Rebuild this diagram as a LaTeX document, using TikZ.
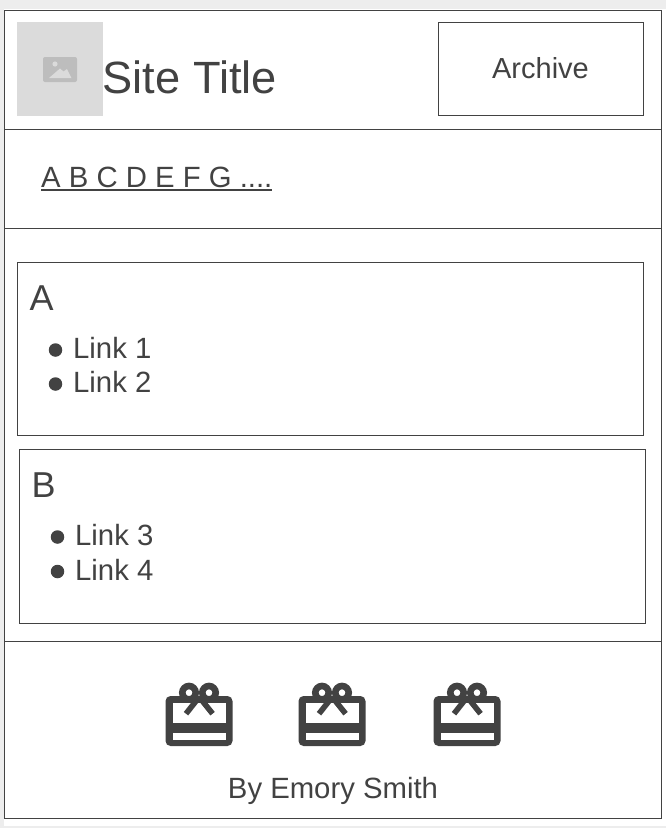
\documentclass[tikz,border=0pt]{standalone}
\usepackage{fontspec}
\setmainfont{Liberation Sans}
\definecolor{ink}{HTML}{424242}
\definecolor{pagegray}{HTML}{EDEDED}
\definecolor{phgray}{HTML}{DBDBDB}
\definecolor{icgray}{HTML}{BDBDBD}
\tikzset{
  x=1pt,y=-1pt,
  frame/.style={draw=ink,line width=1pt,fill=white},
  txt/.style={text=ink,inner sep=0pt,anchor=base west},
  dotb/.style={circle,fill=ink,draw=none,minimum size=13.5pt,inner sep=0pt},
  rule/.style={draw=ink,line width=1pt}
}
\newcommand{\txtsize}[1]{\fontsize{#1}{#1}\selectfont}
\newcommand{\gifticon}[1]{%
  \begin{scope}[shift={(#1,0)}]
    \draw[ink,line width=6.6pt] (189,692.7) circle (6.7);
    \draw[ink,line width=6.6pt] (209,692.7) circle (6.7);
    \fill[ink,rounded corners=5pt] (165.5,696) rectangle (232.5,746);
    \fill[white] (172.5,703) rectangle (225.5,723);
    \fill[white] (172.5,733) rectangle (225.5,739.5);
    \draw[ink,line width=5.6pt] (199.2,697) -- (186,713.7);
    \draw[ink,line width=5.6pt] (199.2,697) -- (212.6,713.7);
  \end{scope}}
\begin{document}
\begin{tikzpicture}
\useasboundingbox (0,0) rectangle (666,828);
\fill[white] (0,0) rectangle (666,828);
\fill[pagegray] (0,0) rectangle (666,9);
\fill[pagegray] (0,0) rectangle (3.5,828);
\fill[pagegray] (0,826) rectangle (666,828);
\path[frame] (4.5,10.5) rectangle (661.5,818.5);
\path[rule] (4.5,129.5) -- (661.5,129.5);
\path[rule] (4.5,228.5) -- (661.5,228.5);
\path[rule] (4.5,641.5) -- (661.5,641.5);
% header
\fill[phgray] (17,22) rectangle (103,116);
\fill[icgray,rounded corners=2pt] (43,57) rectangle (77,82);
\fill[phgray] (55,64) circle (2.6);
\fill[phgray] (49,78) -- (60,68.5) -- (63.5,71.5) -- (67,69) -- (71.5,78) -- cycle;
\node[txt] (title) at (102.5,93) {\txtsize{45.2}Site Title};
\path[frame] (438.5,22.5) rectangle (643.5,115.5);
\node[text=ink,inner sep=0pt,anchor=base] (archive) at (540.5,78) {\txtsize{29}Archive};
% nav
\node[txt] (nav) at (41,187) {\txtsize{29.3}A B C D E F G ....};
\draw[ink,line width=1.6pt] (41,190) -- (271.5,190);
% box A
\path[frame] (17.5,262.5) rectangle (643.5,435.5);
\node[txt] (ah) at (29.5,310) {\txtsize{36}A};
\node[dotb] (d1) at (55.5,350) {};
\node[txt] (l1) at (73,358) {\txtsize{29.3}Link 1};
\node[dotb] (d2) at (55.5,384) {};
\node[txt] (l2) at (73,392) {\txtsize{29.3}Link 2};
% box B
\path[frame] (19.5,449.5) rectangle (645.5,623.5);
\node[txt] (bh) at (31.5,497) {\txtsize{36}B};
\node[dotb] (d3) at (57.5,537) {};
\node[txt] (l3) at (75,545) {\txtsize{29.3}Link 3};
\node[dotb] (d4) at (57.5,571.5) {};
\node[txt] (l4) at (75,580) {\txtsize{29.3}Link 4};
% footer
\gifticon{0}
\gifticon{133}
\gifticon{268}
\node[text=ink,inner sep=0pt,anchor=base] (by) at (333,798) {\txtsize{29.3}By Emory Smith};
\end{tikzpicture}
\end{document}
